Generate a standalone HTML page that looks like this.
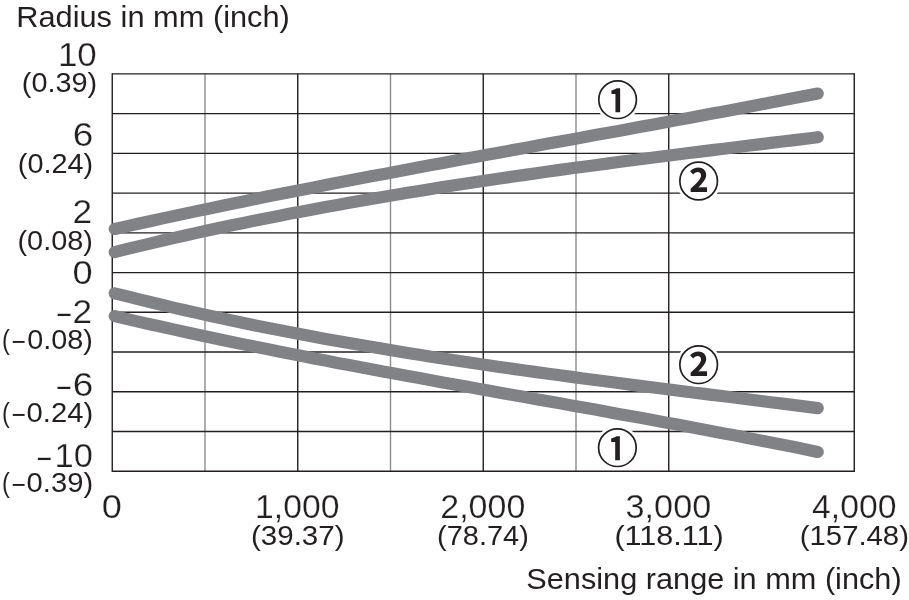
<!DOCTYPE html>
<html><head><meta charset="utf-8"><title>Sensing range chart</title>
<style>
html,body{margin:0;padding:0;background:#fff;}
svg{display:block;will-change:transform;}
text{font-family:"Liberation Sans",sans-serif;fill:#231f20;stroke:#fff;stroke-width:0.5px;paint-order:fill stroke;}
.b{font-size:33.5px;stroke-width:0.25px;}
.p{font-size:27.8px;stroke:none;}
.t{font-size:29.5px;stroke:none;}
.c{font-family:"Liberation Sans","Noto Sans CJK JP",sans-serif;font-weight:bold;font-size:41px;stroke:none;}
</style></head><body>
<svg width="909" height="600" viewBox="0 0 909 600">
<rect width="909" height="600" fill="#fff"/>

<line x1="205.00" y1="73.85" x2="205.00" y2="471.3" stroke="#8a8c8e" stroke-width="1.4"/>
<line x1="390.50" y1="73.85" x2="390.50" y2="471.3" stroke="#8a8c8e" stroke-width="1.4"/>
<line x1="576.00" y1="73.85" x2="576.00" y2="471.3" stroke="#8a8c8e" stroke-width="1.4"/>
<line x1="112.25" y1="73.85" x2="854.25" y2="73.85" stroke="#231f20" stroke-width="1.4"/>
<line x1="112.25" y1="113.59" x2="854.25" y2="113.59" stroke="#231f20" stroke-width="1.4"/>
<line x1="112.25" y1="153.34" x2="854.25" y2="153.34" stroke="#231f20" stroke-width="1.4"/>
<line x1="112.25" y1="193.09" x2="854.25" y2="193.09" stroke="#231f20" stroke-width="1.4"/>
<line x1="112.25" y1="232.83" x2="854.25" y2="232.83" stroke="#231f20" stroke-width="1.4"/>
<line x1="112.25" y1="272.58" x2="854.25" y2="272.58" stroke="#231f20" stroke-width="1.4"/>
<line x1="112.25" y1="312.32" x2="854.25" y2="312.32" stroke="#231f20" stroke-width="1.4"/>
<line x1="112.25" y1="352.07" x2="854.25" y2="352.07" stroke="#231f20" stroke-width="1.4"/>
<line x1="112.25" y1="391.81" x2="854.25" y2="391.81" stroke="#231f20" stroke-width="1.4"/>
<line x1="112.25" y1="431.56" x2="854.25" y2="431.56" stroke="#231f20" stroke-width="1.4"/>
<line x1="112.25" y1="471.30" x2="854.25" y2="471.30" stroke="#231f20" stroke-width="1.4"/>
<line x1="112.25" y1="73.14999999999999" x2="112.25" y2="472.0" stroke="#231f20" stroke-width="1.4"/>
<line x1="297.75" y1="73.85" x2="297.75" y2="471.3" stroke="#231f20" stroke-width="1.4"/>
<line x1="483.25" y1="73.85" x2="483.25" y2="471.3" stroke="#231f20" stroke-width="1.4"/>
<line x1="668.75" y1="73.85" x2="668.75" y2="471.3" stroke="#231f20" stroke-width="1.4"/>
<line x1="854.25" y1="73.14999999999999" x2="854.25" y2="472.0" stroke="#231f20" stroke-width="1.4"/>
<path d="M114.7,229.0 L126.4,226.4 L138.1,223.8 L149.8,221.2 L161.6,218.6 L173.3,216.1 L185.0,213.6 L196.7,211.1 L208.4,208.7 L220.2,206.2 L231.9,203.8 L243.6,201.4 L255.3,199.0 L267.0,196.6 L278.7,194.3 L290.4,192.0 L302.2,189.7 L313.9,187.4 L325.6,185.1 L337.3,182.8 L349.0,180.6 L360.8,178.3 L372.5,176.1 L384.2,173.9 L395.9,171.7 L407.6,169.5 L419.3,167.3 L431.1,165.1 L442.8,162.9 L454.5,160.8 L466.2,158.6 L477.9,156.5 L489.6,154.3 L501.4,152.2 L513.1,150.0 L524.8,147.9 L536.5,145.8 L548.2,143.6 L559.9,141.5 L571.6,139.4 L583.4,137.3 L595.1,135.1 L606.8,133.0 L618.5,130.9 L630.2,128.7 L642.0,126.6 L653.7,124.4 L665.4,122.3 L677.1,120.1 L688.8,118.0 L700.5,115.8 L712.2,113.6 L724.0,111.4 L735.7,109.2 L747.4,107.0 L759.1,104.8 L770.8,102.5 L782.6,100.3 L794.3,98.0 L806.0,95.8 L817.7,93.5" fill="none" stroke="#808285" stroke-width="12.2" stroke-linecap="round" stroke-linejoin="round"/>
<path d="M114.7,252.1 L126.4,249.2 L138.1,246.4 L149.8,243.6 L161.6,240.8 L173.3,238.1 L185.0,235.5 L196.7,232.9 L208.4,230.3 L220.2,227.8 L231.9,225.3 L243.6,222.9 L255.3,220.5 L267.0,218.2 L278.7,215.9 L290.4,213.6 L302.2,211.4 L313.9,209.2 L325.6,207.0 L337.3,204.9 L349.0,202.8 L360.8,200.7 L372.5,198.7 L384.2,196.7 L395.9,194.7 L407.6,192.8 L419.3,190.9 L431.1,189.0 L442.8,187.1 L454.5,185.3 L466.2,183.5 L477.9,181.7 L489.6,180.0 L501.4,178.3 L513.1,176.5 L524.8,174.9 L536.5,173.2 L548.2,171.5 L559.9,169.9 L571.6,168.3 L583.4,166.7 L595.1,165.2 L606.8,163.6 L618.5,162.0 L630.2,160.5 L642.0,159.0 L653.7,157.5 L665.4,156.0 L677.1,154.5 L688.8,153.0 L700.5,151.6 L712.2,150.1 L724.0,148.7 L735.7,147.2 L747.4,145.8 L759.1,144.4 L770.8,142.9 L782.6,141.5 L794.3,140.1 L806.0,138.7 L817.7,137.2" fill="none" stroke="#808285" stroke-width="12.2" stroke-linecap="round" stroke-linejoin="round"/>
<path d="M114.7,293.3 L126.4,296.2 L138.1,299.2 L149.8,302.0 L161.6,304.8 L173.3,307.6 L185.0,310.3 L196.7,312.9 L208.4,315.5 L220.2,318.0 L231.9,320.5 L243.6,323.0 L255.3,325.4 L267.0,327.8 L278.7,330.1 L290.4,332.3 L302.2,334.6 L313.9,336.8 L325.6,338.9 L337.3,341.0 L349.0,343.1 L360.8,345.1 L372.5,347.1 L384.2,349.1 L395.9,351.1 L407.6,353.0 L419.3,354.8 L431.1,356.7 L442.8,358.5 L454.5,360.3 L466.2,362.0 L477.9,363.8 L489.6,365.5 L501.4,367.2 L513.1,368.9 L524.8,370.5 L536.5,372.1 L548.2,373.7 L559.9,375.3 L571.6,376.9 L583.4,378.5 L595.1,380.0 L606.8,381.5 L618.5,383.0 L630.2,384.6 L642.0,386.1 L653.7,387.5 L665.4,389.0 L677.1,390.5 L688.8,392.0 L700.5,393.4 L712.2,394.9 L724.0,396.3 L735.7,397.8 L747.4,399.3 L759.1,400.7 L770.8,402.2 L782.6,403.6 L794.3,405.1 L806.0,406.6 L817.7,408.1" fill="none" stroke="#808285" stroke-width="12.2" stroke-linecap="round" stroke-linejoin="round"/>
<path d="M114.7,316.1 L126.4,318.9 L138.1,321.6 L149.8,324.2 L161.6,326.8 L173.3,329.4 L185.0,332.0 L196.7,334.5 L208.4,337.0 L220.2,339.5 L231.9,341.9 L243.6,344.4 L255.3,346.7 L267.0,349.1 L278.7,351.5 L290.4,353.8 L302.2,356.1 L313.9,358.4 L325.6,360.6 L337.3,362.9 L349.0,365.1 L360.8,367.3 L372.5,369.5 L384.2,371.7 L395.9,373.8 L407.6,376.0 L419.3,378.1 L431.1,380.3 L442.8,382.4 L454.5,384.5 L466.2,386.6 L477.9,388.7 L489.6,390.8 L501.4,392.9 L513.1,395.0 L524.8,397.1 L536.5,399.2 L548.2,401.3 L559.9,403.3 L571.6,405.4 L583.4,407.5 L595.1,409.6 L606.8,411.7 L618.5,413.9 L630.2,416.0 L642.0,418.1 L653.7,420.3 L665.4,422.4 L677.1,424.6 L688.8,426.8 L700.5,428.9 L712.2,431.2 L724.0,433.4 L735.7,435.6 L747.4,437.9 L759.1,440.2 L770.8,442.5 L782.6,444.8 L794.3,447.1 L806.0,449.5 L817.7,451.9" fill="none" stroke="#808285" stroke-width="12.2" stroke-linecap="round" stroke-linejoin="round"/>
<defs><clipPath id="cc1"><ellipse cx="-1" cy="0" rx="10" ry="15"/></clipPath><clipPath id="cc2"><ellipse cx="0" cy="0" rx="13" ry="15"/></clipPath></defs>
<circle cx="617.6" cy="99.7" r="22.3" fill="#fff"/>
<circle cx="617.6" cy="99.7" r="18.8" fill="#fff" stroke="#231f20" stroke-width="1.7"/>
<g transform="translate(617.6,99.7)" clip-path="url(#cc1)"><text class="c" transform="scale(0.9,1.1)" x="-21.35" y="16.43">①</text></g>
<circle cx="698.65" cy="181.0" r="22.3" fill="#fff"/>
<circle cx="698.65" cy="181.0" r="18.8" fill="#fff" stroke="#231f20" stroke-width="1.7"/>
<g transform="translate(698.65,181.0)" clip-path="url(#cc2)"><text class="c" transform="scale(1.03,1.1)" x="-20.70" y="15.88">②</text></g>
<circle cx="698.65" cy="364.7" r="22.3" fill="#fff"/>
<circle cx="698.65" cy="364.7" r="18.8" fill="#fff" stroke="#231f20" stroke-width="1.7"/>
<g transform="translate(698.65,364.7)" clip-path="url(#cc2)"><text class="c" transform="scale(1.03,1.1)" x="-20.70" y="15.88">②</text></g>
<circle cx="617.4" cy="447.7" r="22.3" fill="#fff"/>
<circle cx="617.4" cy="447.7" r="18.8" fill="#fff" stroke="#231f20" stroke-width="1.7"/>
<g transform="translate(617.4,447.7)" clip-path="url(#cc1)"><text class="c" transform="scale(0.9,1.1)" x="-21.35" y="16.43">①</text></g>
<text class="t"><tspan x="16.19" y="26.70" textLength="273.69" lengthAdjust="spacingAndGlyphs">Radius in mm (inch)</tspan></text>
<text class="b"><tspan x="57.96" y="66.00" textLength="38.82" lengthAdjust="spacingAndGlyphs">10</tspan></text>
<text class="p"><tspan x="21.84" y="92.20" textLength="75.41" lengthAdjust="spacingAndGlyphs">(0.39)</tspan></text>
<text class="b"><tspan x="72.65" y="146.45" textLength="20.53" lengthAdjust="spacingAndGlyphs">6</tspan></text>
<text class="p"><tspan x="17.84" y="172.65" textLength="75.41" lengthAdjust="spacingAndGlyphs">(0.24)</tspan></text>
<text class="b"><tspan x="72.62" y="223.20" textLength="19.60" lengthAdjust="spacingAndGlyphs">2</tspan></text>
<text class="p"><tspan x="17.49" y="250.10" textLength="75.41" lengthAdjust="spacingAndGlyphs">(0.08)</tspan></text>
<text class="b"><tspan x="72.54" y="284.00" textLength="20.16" lengthAdjust="spacingAndGlyphs">0</tspan></text>
<text class="b"><tspan x="56.28" y="325.80" textLength="15.78" lengthAdjust="spacingAndGlyphs">−</tspan><tspan x="72.62" y="322.50" textLength="19.60" lengthAdjust="spacingAndGlyphs">2</tspan></text>
<text class="p"><tspan x="1.92" y="349.00" textLength="7.81" lengthAdjust="spacingAndGlyphs">(</tspan><tspan x="11.62" y="350.90" textLength="14.23" lengthAdjust="spacingAndGlyphs">−</tspan><tspan x="27.36" y="349.00" textLength="65.58" lengthAdjust="spacingAndGlyphs">0.08)</tspan></text>
<text class="b"><tspan x="56.07" y="398.80" textLength="15.78" lengthAdjust="spacingAndGlyphs">−</tspan><tspan x="72.65" y="395.50" textLength="20.53" lengthAdjust="spacingAndGlyphs">6</tspan></text>
<text class="p"><tspan x="1.92" y="421.80" textLength="7.81" lengthAdjust="spacingAndGlyphs">(</tspan><tspan x="11.62" y="423.70" textLength="14.23" lengthAdjust="spacingAndGlyphs">−</tspan><tspan x="26.64" y="421.80" textLength="66.50" lengthAdjust="spacingAndGlyphs">0.24)</tspan></text>
<text class="b"><tspan x="36.52" y="469.90" textLength="15.64" lengthAdjust="spacingAndGlyphs">−</tspan><tspan x="54.52" y="466.60" textLength="38.36" lengthAdjust="spacingAndGlyphs">10</tspan></text>
<text class="p"><tspan x="1.92" y="492.30" textLength="7.81" lengthAdjust="spacingAndGlyphs">(</tspan><tspan x="11.62" y="494.20" textLength="14.23" lengthAdjust="spacingAndGlyphs">−</tspan><tspan x="26.64" y="492.30" textLength="66.50" lengthAdjust="spacingAndGlyphs">0.39)</tspan></text>
<text class="b"><tspan x="101.85" y="517.80" textLength="20.13" lengthAdjust="spacingAndGlyphs">0</tspan></text>
<text class="b"><tspan x="255.08" y="517.80" textLength="84.35" lengthAdjust="spacingAndGlyphs">1,000</tspan></text>
<text class="p"><tspan x="250.97" y="545.10" textLength="93.52" lengthAdjust="spacingAndGlyphs">(39.37)</tspan></text>
<text class="b"><tspan x="440.31" y="517.80" textLength="84.98" lengthAdjust="spacingAndGlyphs">2,000</tspan></text>
<text class="p"><tspan x="437.06" y="545.10" textLength="91.73" lengthAdjust="spacingAndGlyphs">(78.74)</tspan></text>
<text class="b"><tspan x="625.57" y="517.80" textLength="85.68" lengthAdjust="spacingAndGlyphs">3,000</tspan></text>
<text class="p"><tspan x="614.42" y="545.10" textLength="109.27" lengthAdjust="spacingAndGlyphs">(118.11)</tspan></text>
<text class="b"><tspan x="812.06" y="517.80" textLength="84.37" lengthAdjust="spacingAndGlyphs">4,000</tspan></text>
<text class="p"><tspan x="799.81" y="545.10" textLength="109.14" lengthAdjust="spacingAndGlyphs">(157.48)</tspan></text>
<text class="t"><tspan x="526.33" y="589.00" textLength="375.30" lengthAdjust="spacingAndGlyphs">Sensing range in mm (inch)</tspan></text>
</svg></body></html>
